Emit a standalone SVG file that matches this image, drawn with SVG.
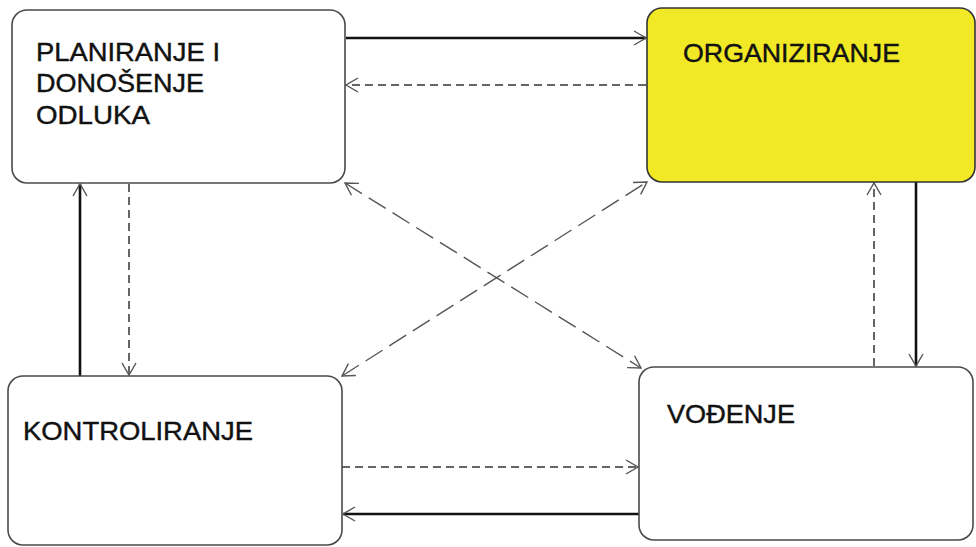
<svg xmlns="http://www.w3.org/2000/svg" width="976" height="547" viewBox="0 0 976 547">
  <style>
    .box { fill: #ffffff; stroke: #4a4a4a; stroke-width: 1.6; }
    .box.hl { fill: #f2e926; stroke: #333333; }
    .lbl { font-family: "Liberation Sans", Arial, sans-serif; font-size: 25px; fill: #111111; stroke: #111111; stroke-width: 0.4; }
    .solid { fill: none; stroke: #111111; stroke-width: 2.6; marker-end: url(#arr); }
    .dash { fill: none; stroke: #333333; stroke-width: 1.5; stroke-dasharray: 8 5; marker-end: url(#arr); }
    .diag { fill: none; stroke: #555555; stroke-width: 1.4; stroke-dasharray: 20 8; marker-start: url(#arr2); marker-end: url(#arr); }
  </style>
  <defs>
    <marker id="arr" markerUnits="userSpaceOnUse" markerWidth="16" markerHeight="16" viewBox="-14 -8 16 16" refX="0" refY="0" orient="auto">
      <path d="M-12,-7 L0,0 L-12,7" fill="none" stroke="#555555" stroke-width="1.4"/>
    </marker>
    <marker id="arr2" markerUnits="userSpaceOnUse" markerWidth="16" markerHeight="16" viewBox="-14 -8 16 16" refX="0" refY="0" orient="auto-start-reverse">
      <path d="M-12,-7 L0,0 L-12,7" fill="none" stroke="#555555" stroke-width="1.4"/>
    </marker>
  </defs>

  <g id="connectors">
    <!-- planning -> organizing / back -->
    <line class="solid" x1="346" y1="38" x2="646" y2="38"/>
    <line class="dash" x1="646" y1="85" x2="346" y2="85"/>
    <!-- control <-> planning -->
    <line class="solid" x1="80" y1="376" x2="80" y2="184"/>
    <line class="dash" x1="129" y1="184" x2="129" y2="375"/>
    <!-- organizing <-> leading -->
    <line class="solid" x1="916" y1="182" x2="916" y2="366"/>
    <line class="dash" x1="874" y1="366" x2="874" y2="183"/>
    <!-- control <-> leading -->
    <line class="dash" x1="342" y1="467" x2="638" y2="467"/>
    <line class="solid" x1="639" y1="514" x2="343" y2="514"/>
    <!-- diagonals -->
    <line class="diag" x1="345" y1="183" x2="641" y2="368"/>
    <line class="diag" x1="342" y1="376" x2="647" y2="182"/>
  </g>

  <g id="planiranje">
    <rect class="box" x="12" y="10" width="333" height="173" rx="15"/>
    <text class="lbl" x="36" y="61" textLength="184" lengthAdjust="spacingAndGlyphs">PLANIRANJE I</text>
    <text class="lbl" x="36" y="92" textLength="168" lengthAdjust="spacingAndGlyphs">DONOŠENJE</text>
    <text class="lbl" x="36" y="124" textLength="114" lengthAdjust="spacingAndGlyphs">ODLUKA</text>
  </g>

  <g id="organiziranje">
    <rect class="box hl" x="647" y="8" width="328" height="174" rx="15"/>
    <text class="lbl" x="683" y="62" textLength="217" lengthAdjust="spacingAndGlyphs">ORGANIZIRANJE</text>
  </g>

  <g id="kontroliranje">
    <rect class="box" x="8" y="376" width="334" height="169" rx="15"/>
    <text class="lbl" x="23" y="440" textLength="230" lengthAdjust="spacingAndGlyphs">KONTROLIRANJE</text>
  </g>

  <g id="vodenje">
    <rect class="box" x="639" y="367" width="334" height="173" rx="15"/>
    <text class="lbl" x="667" y="423" textLength="128" lengthAdjust="spacingAndGlyphs">VOĐENJE</text>
  </g>
</svg>
